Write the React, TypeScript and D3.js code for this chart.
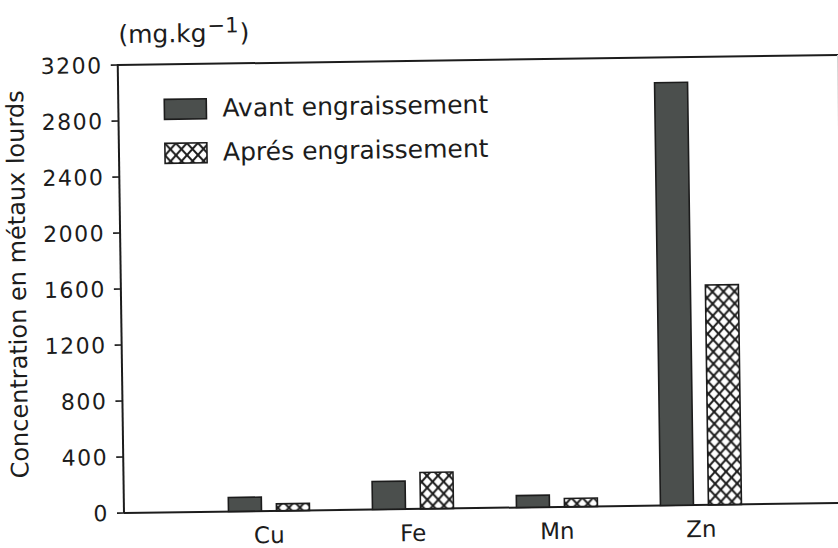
import React from "react";
import * as d3 from "d3";

// Heavy-metal concentrations (mg/kg) before and after fattening
const categories = ["Cu", "Fe", "Mn", "Zn"];
const avantValues = [100, 200, 85, 3020];
const apresValues = [50, 260, 60, 1570];
const seriesKeys = ["avant", "apres"];
const seriesLabels = ["Avant engraissement", "Aprés engraissement"];
const yTicks = [0, 400, 800, 1200, 1600, 2000, 2400, 2800, 3200];
const yTitle = "Concentration en métaux lourds";

const W = 838;
const H = 548;
const FONT = "'DejaVu Sans', sans-serif";
const INK = "#1c1c1c";
const SOLID = "#4b4f4d";

export default function App() {
  const x0Left = 124;
  const yBase = 513;
  const yTop = 65;
  const rightEdge = 850;

  const y = d3.scaleLinear().domain([0, 3200]).range([yBase, yTop]);
  const x0 = d3.scaleBand<string>().domain(categories).range([197, 773]);
  const groupW = 81;
  const x1 = d3
    .scaleBand<string>()
    .domain(seriesKeys)
    .range([0, groupW])
    .paddingInner(0.3125);
  const groupStart = (c: string) => (x0(c) as number) + (x0.bandwidth() - groupW) / 2;

  const rows = categories.map((c, i) => ({
    cat: c,
    values: [avantValues[i], apresValues[i]],
  }));

  return (
    <svg
      width={W}
      height={H}
      style={{ position: "absolute", left: 0, top: 0, background: "#fff" }}
      fontFamily={FONT}
    >
      <defs>
        <pattern id="xhatch" patternUnits="userSpaceOnUse" width={11} height={12}>
          <rect width={11} height={12} fill="#fff" />
          <path d="M0,0 L11,12 M11,0 L0,12" stroke={INK} strokeWidth={2} fill="none" />
          <path d="M-1,11 L1,13 M10,-1 L12,1 M10,13 L12,11 M-1,1 L1,-1" stroke={INK} strokeWidth={2} />
        </pattern>
      </defs>
      <rect width={W} height={H} fill="#fff" />
      <g transform={`rotate(-0.8, ${x0Left}, ${yBase})`}>
        {/* unit */}
        <text x={125} y={43} fontSize={25} fill={INK}>
          (mg.kg
          <tspan dy={-9} fontSize={21} dx={1}>−1</tspan>
          <tspan dy={9} dx={1}>)</tspan>
        </text>

        {/* frame */}
        <line x1={x0Left} x2={rightEdge} y1={yTop} y2={yTop} stroke={INK} strokeWidth={2} />
        <line x1={x0Left} x2={x0Left} y1={yTop - 1} y2={yBase} stroke={INK} strokeWidth={2} />
        <line x1={x0Left} x2={rightEdge} y1={yBase} y2={yBase} stroke={INK} strokeWidth={2} />
        <line x1={844} x2={844} y1={yTop} y2={yBase} stroke="#d4d4d4" strokeWidth={1.5} />

        {/* y ticks */}
        {yTicks.map((t) => (
          <g key={t}>
            <line x1={x0Left - 7} x2={x0Left} y1={y(t)} y2={y(t)} stroke={INK} strokeWidth={1.6} />
            <text
              x={x0Left - 15}
              y={y(t)}
              dy="0.36em"
              textAnchor="end"
              fontSize={22}
              letterSpacing={1.5}
              fill={INK}
            >
              {t}
            </text>
          </g>
        ))}

        {/* y title */}
        <text
          transform={`translate(29, 283) rotate(-90)`}
          textAnchor="middle"
          fontSize={24}
          fill={INK}
        >
          {yTitle}
        </text>

        {/* bars */}
        {rows.map((r) => (
          <g key={r.cat} transform={`translate(${groupStart(r.cat)},0)`}>
            {r.values.map((v, j) => (
              <rect
                key={seriesKeys[j]}
                x={x1(seriesKeys[j])}
                y={y(v)}
                width={x1.bandwidth()}
                height={yBase - y(v)}
                fill={j === 0 ? SOLID : "url(#xhatch)"}
                stroke={INK}
                strokeWidth={1.6}
              />
            ))}
          </g>
        ))}

        {/* category labels */}
        {categories.map((c) => (
          <text
            key={c}
            x={(x0(c) as number) + x0.bandwidth() / 2}
            y={545}
            textAnchor="middle"
            fontSize={23}
            fill={INK}
          >
            {c}
          </text>
        ))}

        {/* legend */}
        {seriesLabels.map((lab, j) => (
          <g key={lab} transform={`translate(170, ${100 + j * 44})`}>
            <rect
              width={42}
              height={20}
              fill={j === 0 ? SOLID : "url(#xhatch)"}
              stroke={INK}
              strokeWidth={1.6}
            />
            <text x={58} y={18} fontSize={25} fill={INK}>
              {lab}
            </text>
          </g>
        ))}
      </g>
    </svg>
  );
}
